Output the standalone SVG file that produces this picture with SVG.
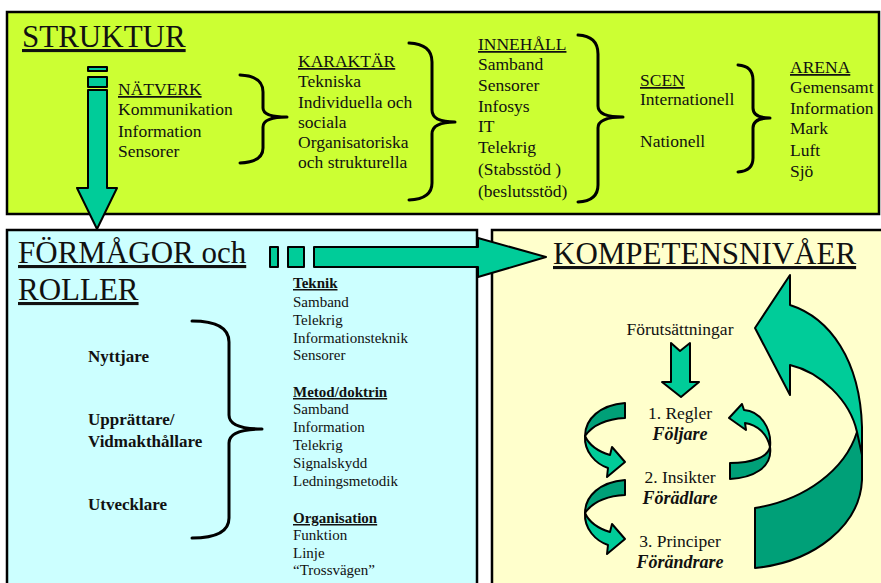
<svg xmlns="http://www.w3.org/2000/svg" width="881" height="583" viewBox="0 0 881 583">
<defs>
<style>
text{font-family:"Liberation Serif","Times New Roman",serif;fill:#111}
.h1{font-size:31px;text-decoration:underline}
.t{font-size:17.5px}
.u{text-decoration:underline}
.s{font-size:15px}
.sb{font-size:15px;font-weight:bold;text-decoration:underline}
.rb{font-size:17px;font-weight:bold}
.c{text-anchor:middle}
.bi{font-size:18px;font-weight:bold;font-style:italic}
.brace{fill:none;stroke:#000;stroke-width:3;stroke-linecap:round;stroke-linejoin:round}
.ar{fill:#00CC99;stroke:#000;stroke-width:2;stroke-linejoin:round}
.ard{fill:#00A078;stroke:#000;stroke-width:2;stroke-linejoin:round}
.box{stroke:#000;stroke-width:2.5}
</style>
</defs>
<rect width="881" height="583" fill="#fff"/>

<g id="struktur">
<rect class="box" x="7" y="12" width="872" height="202" fill="#CCFF33"/>
<text class="h1" x="22" y="47">STRUKTUR</text>
</g>

<g id="natverk">
<text class="t u" x="118" y="95">NÄTVERK</text>
<text class="t" x="118" y="115">Kommunikation</text>
<text class="t" x="118" y="137">Information</text>
<text class="t" x="118" y="157">Sensorer</text>
</g>

<g id="karaktar">
<text class="t u" x="298" y="67">KARAKTÄR</text>
<text class="t" x="298" y="87">Tekniska</text>
<text class="t" x="298" y="108">Individuella och</text>
<text class="t" x="298" y="128">sociala</text>
<text class="t" x="298" y="148">Organisatoriska</text>
<text class="t" x="298" y="168">och strukturella</text>
</g>

<g id="innehall">
<text class="t u" x="478" y="50">INNEHÅLL</text>
<text class="t" x="478" y="70">Samband</text>
<text class="t" x="478" y="91">Sensorer</text>
<text class="t" x="478" y="112">Infosys</text>
<text class="t" x="478" y="132">IT</text>
<text class="t" x="478" y="153">Telekrig</text>
<text class="t" x="478" y="175">(Stabsstöd )</text>
<text class="t" x="478" y="197">(beslutsstöd)</text>
</g>

<g id="scen">
<text class="t u" x="640" y="86">SCEN</text>
<text class="t" x="640" y="105">Internationell</text>
<text class="t" x="640" y="147">Nationell</text>
</g>

<g id="arena">
<text class="t u" x="790" y="73">ARENA</text>
<text class="t" x="790" y="93">Gemensamt</text>
<text class="t" x="790" y="114">Information</text>
<text class="t" x="790" y="134">Mark</text>
<text class="t" x="790" y="156">Luft</text>
<text class="t" x="790" y="177">Sjö</text>
</g>

<g id="formagor">
<rect class="box" x="7" y="230" width="470" height="360" fill="#CCFFFF"/>
<text class="h1" x="18" y="263">FÖRMÅGOR och</text>
<text class="h1" x="18" y="300">ROLLER</text>
<text class="rb" x="88" y="362">Nyttjare</text>
<text class="rb" x="88" y="425">Upprättare/</text>
<text class="rb" x="88" y="447">Vidmakthållare</text>
<text class="rb" x="88" y="510">Utvecklare</text>
<text class="sb" x="293" y="288">Teknik</text>
<text class="s" x="293" y="307">Samband</text>
<text class="s" x="293" y="325">Telekrig</text>
<text class="s" x="293" y="343">Informationsteknik</text>
<text class="s" x="293" y="360">Sensorer</text>
<text class="sb" x="293" y="397">Metod/doktrin</text>
<text class="s" x="293" y="414">Samband</text>
<text class="s" x="293" y="432">Information</text>
<text class="s" x="293" y="450">Telekrig</text>
<text class="s" x="293" y="468">Signalskydd</text>
<text class="s" x="293" y="486">Ledningsmetodik</text>
<text class="sb" x="293" y="523">Organisation</text>
<text class="s" x="293" y="540">Funktion</text>
<text class="s" x="293" y="558">Linje</text>
<text class="s" x="293" y="575">“Trossvägen”</text>
</g>

<g id="kompetens">
<rect class="box" x="492" y="230" width="395" height="360" fill="#FFFFCC"/>
<text class="h1" x="553" y="264">KOMPETENSNIVÅER</text>
<text class="t c" x="680" y="335">Förutsättningar</text>
<text class="t c" x="680" y="419">1. Regler</text>
<text class="bi c" x="680" y="440">Följare</text>
<text class="t c" x="680" y="483">2. Insikter</text>
<text class="bi c" x="680" y="504">Förädlare</text>
<text class="t c" x="680" y="547">3. Principer</text>
<text class="bi c" x="680" y="568">Förändrare</text>
</g>

<g id="connectors">
<!-- braces -->
<path class="brace" d="M240,75 Q263,76 263,92 L263,108 Q263,117 287,117 Q263,117 263,127 L263,148 Q263,162 240,163"/>
<path class="brace" d="M409,43 Q432,44 432,62 L432,110 Q432,122 455,122 Q432,122 432,134 L432,183 Q432,199 409,200"/>
<path class="brace" d="M578,35 Q598,36 598,54 L598,106 Q598,117 623,117 Q598,117 598,128 L598,185 Q598,201 578,202"/>
<path class="brace" d="M738,65 Q753,66 753,80 L753,108 Q753,118 770,118 Q753,118 753,128 L753,158 Q753,171 738,172"/>
<path class="brace" d="M192,321 Q229,321 229,342 L229,415 Q229,429 262,429 Q229,429 229,443 L229,518 Q229,538 192,538"/>

<!-- down arrow from STRUKTUR -->
<rect class="ar" x="88" y="67" width="19" height="4"/>
<rect class="ar" x="88" y="77" width="19" height="10"/>
<path class="ar" d="M88,90 L107,90 L107,188 L117,188 L97,229 L77,188 L88,188 Z"/>

<!-- right arrow to KOMPETENSNIVÅER -->
<rect class="ar" x="270" y="247" width="8" height="20"/>
<rect class="ar" x="288" y="247" width="16" height="20"/>
<path class="ar" d="M314,247 L478,247 L478,238 L546,257 L478,277 L478,267 L314,267 Z"/>

<!-- small down arrow -->
<path class="ar" d="M671,343 L680,351 L690,343 L690,382 L699,382 L681,397 L662,382 L671,382 Z"/>

<!-- left curly arrows -->
<g id="curl1">
<path class="ard" d="M625,403 C600,405 585,419 585,436 C592,426 606,419 625,418 Z"/>
<path class="ar" d="M585,436 C584,452 596,464 608,468 L607,477 L625,462 L612,447 L610,455 C600,452 590,447 585,436 Z"/>
</g>
<g id="curl2" transform="translate(0,77)">
<path class="ard" d="M625,403 C600,405 585,419 585,436 C592,426 606,419 625,418 Z"/>
<path class="ar" d="M585,436 C584,452 596,464 608,468 L607,477 L625,462 L612,447 L610,455 C600,452 590,447 585,436 Z"/>
</g>
<!-- right curly arrow -->
<g id="curl3">
<path class="ar" d="M744,410 L742,404 L729,418 L746,430 L745,423 C757,425 767,433 770,447 C772,428 760,411 744,410 Z"/>
<path class="ard" d="M770,447 C768,457 752,463 730,463 L730,479 C752,478 773,468 770,447 Z"/>
</g>
<!-- big curved arrow -->
<g id="bigcurl">
<path class="ard" d="M755,508 C805,500 845,470 857,432 L862,440 L862,480 C860,525 815,562 755,568 Z"/>
<path class="ar" d="M790,365 C820,372 850,400 857,432 L862,455 L862,427 C860,360 830,318 790,305 L790,275 L755,328 L790,395 Z"/>
</g>
</g>
</svg>
